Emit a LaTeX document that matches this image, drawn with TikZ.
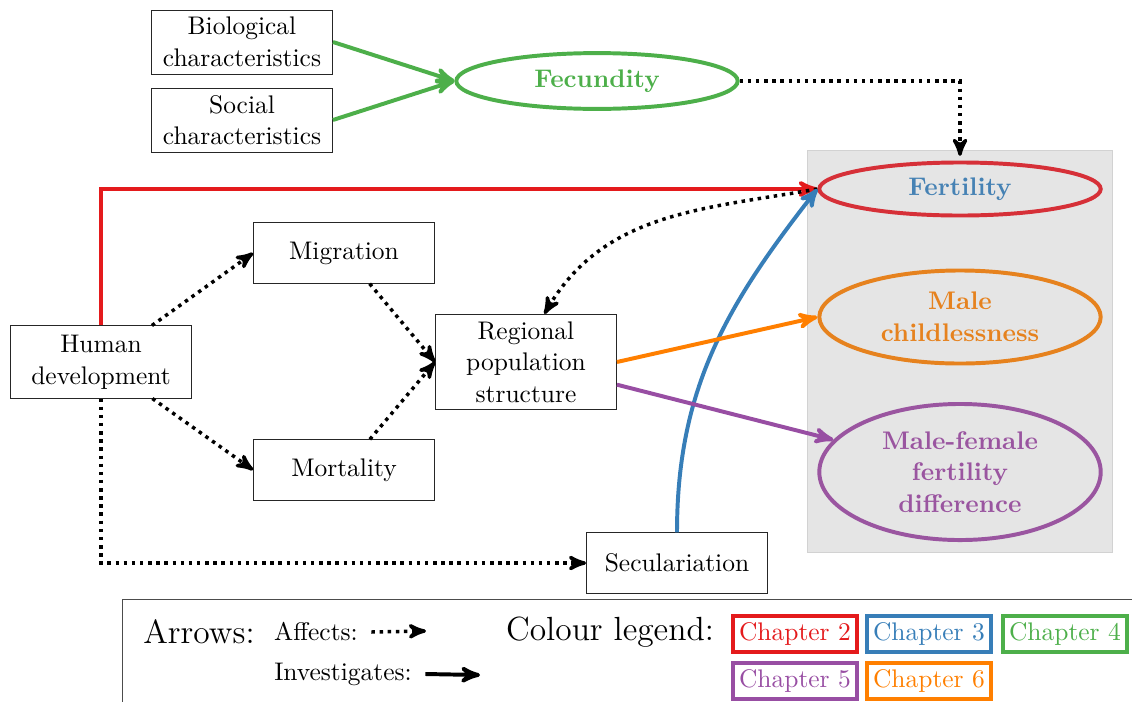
\documentclass[tikz,border=0pt,11pt]{standalone}
\usepackage{amssymb}
\usepackage{amsmath}
\usepackage{tikz}
\usetikzlibrary{%
	calc,%
	arrows,%
	shapes.geometric
}

\definecolor{chred}{HTML}{E41A1C}
\definecolor{chblue}{HTML}{377EB8}
\definecolor{chgreen}{HTML}{4DAF4A}
\definecolor{chpurple}{HTML}{984EA3}
\definecolor{chorange}{HTML}{FF7F00}
\definecolor{fertred}{RGB}{214,48,56}
\definecolor{fertblue}{RGB}{70,130,180}
\definecolor{mcorange}{RGB}{230,130,30}
\definecolor{mfpurple}{RGB}{154,85,160}

\tikzset{
	box/.style={draw=black!85, align=center, minimum width=77.8pt, inner sep=1.5pt},
	outcome/.style={ellipse, line width=1.7pt, align=center, font=\bfseries, inner sep=0.5pt, minimum width=121pt},
	affects/.style={->, line width=1.5pt, dash pattern=on 1.5pt off 2pt},
	investig/.style={->, line width=1.7pt},
	chapbox/.style={draw, line width=1.7pt, minimum width=53.5pt, minimum height=15.5pt, inner sep=0pt}
}

\begin{document}
\begin{tikzpicture}[x=0.43pt, y=-0.43pt, >=stealth']
			\useasboundingbox (0,0) rectangle (1132,701);
			
			% shaded outcome panel
			\draw[gray!35, fill=gray!20] (807,150) rectangle (1112,552);
			
			\node[box, minimum height=27.5pt] (bio) at (242,42) {Biological\\characteristics};
			\node[box, minimum height=27.5pt] (soc) at (242,120) {Social\\characteristics};
			\node[outcome, draw=chgreen, text=chgreen, minimum height=24pt] (fec) at (597,81) {Fecundity};
			
			\node[outcome, draw=fertred, text=fertblue, minimum height=22.8pt] (fert) at (960,189) {Fertility};
			\node[outcome, draw=mcorange, text=mcorange, minimum height=40pt] (mc) at (960,317) {Male\\childlessness};
			\node[outcome, draw=mfpurple, text=mfpurple, minimum height=58.5pt] (mfd) at (960,472) {Male-female\\fertility\\difference};
			
			\node[box, minimum height=31pt] (hd) at (101,362) {Human\\development};
			\node[box, minimum height=26pt] (mig) at (344,253) {Migration};
			\node[box, minimum height=26pt] (mort) at (344,470) {Mortality};
			\node[box, minimum height=41pt] (reg) at (526,362) {Regional\\population\\structure};
			\node[box, minimum height=26pt] (sec) at (677,563) {Seculariation};
			
			% connectors
			\draw[investig, chgreen] (bio.east) -- (fec.west);
			\draw[investig, chgreen] (soc.east) -- (fec.west);
			\draw[affects] (fec.east) -| ([yshift=2pt]fert.north);
			\draw[investig, chred] (hd.north) |- (fert.west);
			\draw[affects] (fert.west) to[out=190, in=60] (reg.69);
			\draw[investig, chblue] (sec.north) to[out=90, in=232] (fert.west);
			\draw[investig, chorange] (reg.east) -- (mc.west);
			\draw[investig, chpurple] (reg.-14) -- (mfd);
			\draw[affects] (hd) -- (mig.west);
			\draw[affects] (hd) -- (mort.west);
			\draw[affects] (mig) -- (reg.west);
			\draw[affects] (mort) -- (reg.west);
			\draw[affects] (hd.south) |- (sec.west);
			
			% legend
			\draw[black!70] (122,599) rectangle (1150,720);
			\node (arr) at (199,632) {\Large Arrows:};
			\node (aff) at (316,632) {Affects:};
			\node (inv) at (343,674) {Investigates:};
			\coordinate (affend) at (426,631);
			\coordinate (invend) at (480,675);
			\draw[affects] ([xshift=2pt]aff.east) -- (affend);
			\draw[investig] ([xshift=2pt]inv.east) -- (invend);
			\node (col) at (610,632) {\Large Colour legend:};
			\node[chapbox, draw=chred, text=chred] (ch2) at (795,634) {Chapter 2};
			\node[chapbox, draw=chblue, text=chblue] (ch3) at (929,634) {Chapter 3};
			\node[chapbox, draw=chgreen, text=chgreen] (ch4) at (1065,634) {Chapter 4};
			\node[chapbox, draw=chpurple, text=chpurple] (ch5) at (795,681) {Chapter 5};
			\node[chapbox, draw=chorange, text=chorange] (ch6) at (929,681) {Chapter 6};
		\end{tikzpicture}
\end{document}
